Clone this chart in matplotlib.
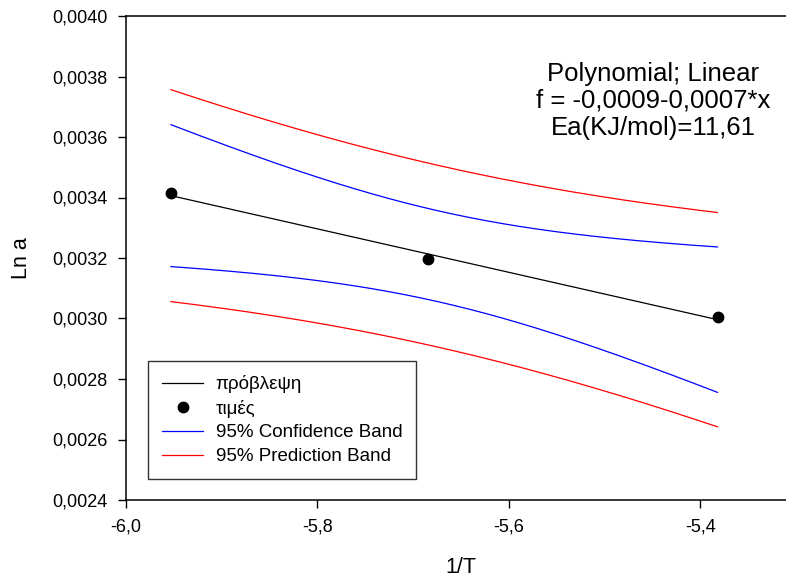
import matplotlib.pyplot as plt
import numpy as np
from matplotlib.ticker import FuncFormatter

plt.rcParams['font.family'] = ['Liberation Sans', 'DejaVu Sans']

# Measured values
inv_T = [-5.953, -5.685, -5.382]
ln_a = [0.003415, 0.003197, 0.003004]

x_ticks = [-6.0, -5.8, -5.6, -5.4]
y_ticks = [0.0024, 0.0026, 0.0028, 0.0030, 0.0032, 0.0034, 0.0036, 0.0038, 0.0040]

fit_text = "Polynomial; Linear\nf = -0,0009-0,0007*x\nEa(KJ/mol)=11,61"

# Linear regression with 95% bands (n = 3, df = 1)
x = np.array(inv_T)
y = np.array(ln_a)
n = len(x)
slope, intercept = np.polyfit(x, y, 1)
resid = y - (intercept + slope * x)
s = np.sqrt(np.sum(resid ** 2) / (n - 2))
t_crit = 12.706
sxx = np.sum((x - x.mean()) ** 2)

xx = np.linspace(x.min(), x.max(), 200)
yy = intercept + slope * xx
lev = 1.0 / n + (xx - x.mean()) ** 2 / sxx
conf = t_crit * s * np.sqrt(lev)
pred = t_crit * s * np.sqrt(1.0 + lev)

fig = plt.figure(figsize=(7.86, 5.77), dpi=100)
ax = fig.add_axes([126 / 786, 77 / 577, 670 / 786, 484 / 577])

ax.plot(xx, yy, color='black', lw=0.9, label='πρόβλεψη')
ax.plot(x, y, 'o', color='black', ms=7.5, label='τιμές')
ax.plot(xx, yy + conf, color='blue', lw=0.9, label='95% Confidence Band')
ax.plot(xx, yy - conf, color='blue', lw=0.9)
ax.plot(xx, yy + pred, color='red', lw=0.9, label='95% Prediction Band')
ax.plot(xx, yy - pred, color='red', lw=0.9)

ax.set_xlim(-6.0, -5.3)
ax.set_ylim(0.0024, 0.0040)
ax.set_xticks(x_ticks)
ax.set_yticks(y_ticks)
ax.xaxis.set_major_formatter(FuncFormatter(lambda v, p: f"{v:.1f}".replace('.', ',')))
ax.yaxis.set_major_formatter(FuncFormatter(lambda v, p: f"{v:.4f}".replace('.', ',')))
ax.tick_params(direction='out', length=6, width=1, labelsize=13, pad=7)
for side in ax.spines.values():
    side.set_linewidth(1.1)

ax.set_xlabel('1/T', fontsize=15.5, labelpad=16)
ax.set_ylabel('Ln a', fontsize=15.5, labelpad=15)

ax.text(0.787, 0.905, fit_text, transform=ax.transAxes, ha='center', va='top',
        fontsize=18.5, linespacing=1.15)

leg = ax.legend(loc='lower left', bbox_to_anchor=(0.033, 0.043), borderaxespad=0,
                fontsize=13.5, frameon=True, fancybox=False, edgecolor='black',
                handlelength=2.2, labelspacing=0.35, borderpad=0.75, handletextpad=0.65)
leg.get_frame().set_linewidth(1.0)

fig.savefig('out.png', dpi=100)
